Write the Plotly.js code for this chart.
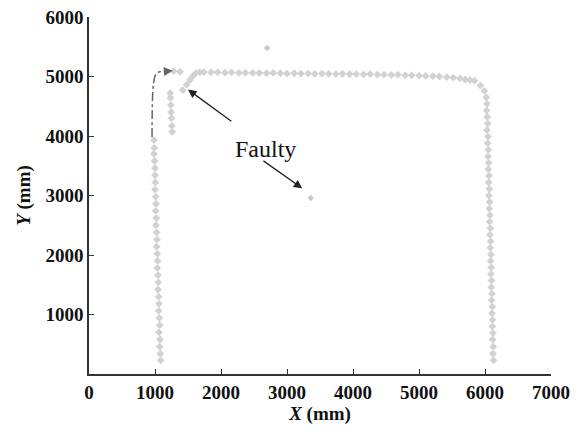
<!DOCTYPE html>
<html><head><meta charset="utf-8">
<script src="https://cdn.plot.ly/plotly-3.0.1.min.js"></script>
<style>html,body{margin:0;padding:0;background:#fff}#c{width:587px;height:434px}</style>
</head><body><div id="c"></div>
<script>
// Left column (track going down)
var leftX = [985, 990, 985, 995, 1000, 1000, 1005, 1000, 1010, 1015, 1010, 1020, 1015, 1025, 1030, 1025, 1035, 1040, 1035, 1045, 1050, 1045, 1055, 1060, 1055, 1065, 1070, 1060, 1075, 1070, 1080, 1085];
var leftY = [3930, 3800, 3700, 3580, 3460, 3340, 3220, 3100, 2980, 2860, 2740, 2620, 2500, 2380, 2260, 2140, 2020, 1900, 1780, 1660, 1540, 1420, 1300, 1180, 1060, 940, 820, 700, 580, 460, 340, 230];
// Short second column
var col2X = [1230, 1235, 1240, 1245, 1250, 1255, 1260];
var col2Y = [4720, 4640, 4520, 4400, 4300, 4170, 4070];
// Faulty diagonal
var diagX = [1420, 1480, 1530, 1575, 1620, 1680];
var diagY = [4770, 4860, 4940, 5010, 5060, 5070];
// Top row
var topX = [1280, 1380, 1740, 1850, 1950, 2060, 2160, 2270, 2370, 2480, 2580, 2690, 2790, 2900, 3000, 3110, 3210, 3320, 3420, 3530, 3630, 3740, 3840, 3950, 4050, 4160, 4260, 4370, 4470, 4580, 4680, 4790, 4890, 5000, 5100, 5210, 5310, 5420, 5520, 5620, 5700, 5770, 5840];
var topY = [5090, 5080, 5075, 5070, 5070, 5065, 5070, 5060, 5065, 5060, 5060, 5055, 5060, 5055, 5050, 5055, 5050, 5050, 5045, 5050, 5045, 5040, 5045, 5040, 5040, 5035, 5040, 5030, 5030, 5025, 5030, 5020, 5020, 5015, 5010, 5005, 5000, 4990, 4980, 4970, 4950, 4940, 4930];
// Right column
var rightX = [5930, 5990, 6020, 6030, 6025, 6035, 6040, 6030, 6045, 6040, 6050, 6045, 6055, 6050, 6060, 6055, 6065, 6060, 6070, 6065, 6075, 6070, 6080, 6075, 6085, 6080, 6090, 6085, 6095, 6090, 6100, 6095, 6105, 6100, 6110, 6105, 6115, 6110, 6120, 6115, 6125, 6120, 6130];
var rightY = [4850, 4760, 4650, 4540, 4430, 4320, 4210, 4100, 3990, 3880, 3770, 3660, 3550, 3440, 3330, 3220, 3110, 3000, 2890, 2780, 2670, 2560, 2450, 2340, 2230, 2120, 2010, 1900, 1790, 1680, 1570, 1460, 1350, 1240, 1130, 1020, 910, 800, 690, 580, 460, 340, 230];
// Outliers
var outX = [2700, 3360];
var outY = [5480, 2960];
// Dash-dot start trajectory
var pathX = [955, 958, 965, 980, 1010, 1060, 1140];
var pathY = [3980, 4400, 4700, 4900, 5030, 5075, 5085];

var mk = {symbol: 'diamond', size: 6, color: '#d2d2d2'};
var traces = [
  {x: leftX, y: leftY, mode: 'markers', marker: mk},
  {x: col2X, y: col2Y, mode: 'markers', marker: mk},
  {x: diagX, y: diagY, mode: 'markers', marker: mk},
  {x: topX, y: topY, mode: 'markers', marker: mk},
  {x: rightX, y: rightY, mode: 'markers', marker: mk},
  {x: outX, y: outY, mode: 'markers', marker: {symbol: 'diamond', size: 5, color: '#c8c8c8'}},
  {x: pathX, y: pathY, mode: 'lines', line: {color: '#666', width: 1.5, dash: 'dashdot', shape: 'spline'}}
];
var serif = 'Liberation Serif, Times New Roman, serif';
var layout = {
  width: 587, height: 434,
  margin: {l: 89, r: 36, t: 17, b: 60},
  showlegend: false,
  paper_bgcolor: '#fff', plot_bgcolor: '#fff',
  font: {family: serif, color: '#111'},
  xaxis: {range: [0, 7000], tickvals: [0,1000,2000,3000,4000,5000,6000,7000], ticktext: ['<b>0</b>','<b>1000</b>','<b>2000</b>','<b>3000</b>','<b>4000</b>','<b>5000</b>','<b>6000</b>','<b>7000</b>'],
    ticks: 'inside', ticklen: 5, tickcolor: '#333',
    showgrid: false, zeroline: false, showline: true, linecolor: '#333', linewidth: 1.5,
    tickfont: {family: serif, size: 19, color: '#111'},
    title: {text: '<b><i>X</i> (mm)</b>', font: {family: serif, size: 19, color: '#111'}, standoff: 2}},
  yaxis: {range: [0, 6000], tickvals: [1000,2000,3000,4000,5000,6000], ticktext: ['<b>1000</b>','<b>2000</b>','<b>3000</b>','<b>4000</b>','<b>5000</b>','<b>6000</b>'],
    ticks: 'inside', ticklen: 5, tickcolor: '#333',
    showgrid: false, zeroline: false, showline: true, linecolor: '#333', linewidth: 1.5,
    tickfont: {family: serif, size: 19, color: '#111'},
    title: {text: '<b><i>Y</i> (mm)</b>', font: {family: serif, size: 19, color: '#111'}, standoff: 10}},
  annotations: [
    {x: 1270, y: 5095, ax: 1120, ay: 5082, xref: 'x', yref: 'y', axref: 'x', ayref: 'y', text: '', showarrow: true, arrowhead: 2, arrowsize: 1.2, arrowwidth: 1.5, arrowcolor: '#666'},
    {x: 2680, y: 3790, xref: 'x', yref: 'y', text: 'Faulty', showarrow: false, font: {family: serif, size: 24, color: '#111'}},
    {x: 1500, y: 4780, ax: 2180, ay: 4230, xref: 'x', yref: 'y', axref: 'x', ayref: 'y', text: '', showarrow: true, arrowhead: 2, arrowsize: 1.3, arrowwidth: 1.3, arrowcolor: '#222'},
    {x: 3230, y: 3120, ax: 2620, ay: 3600, xref: 'x', yref: 'y', axref: 'x', ayref: 'y', text: '', showarrow: true, arrowhead: 2, arrowsize: 1.3, arrowwidth: 1.3, arrowcolor: '#222'}
  ]
};
Plotly.newPlot('c', traces, layout, {displayModeBar: false});
</script></body></html>
